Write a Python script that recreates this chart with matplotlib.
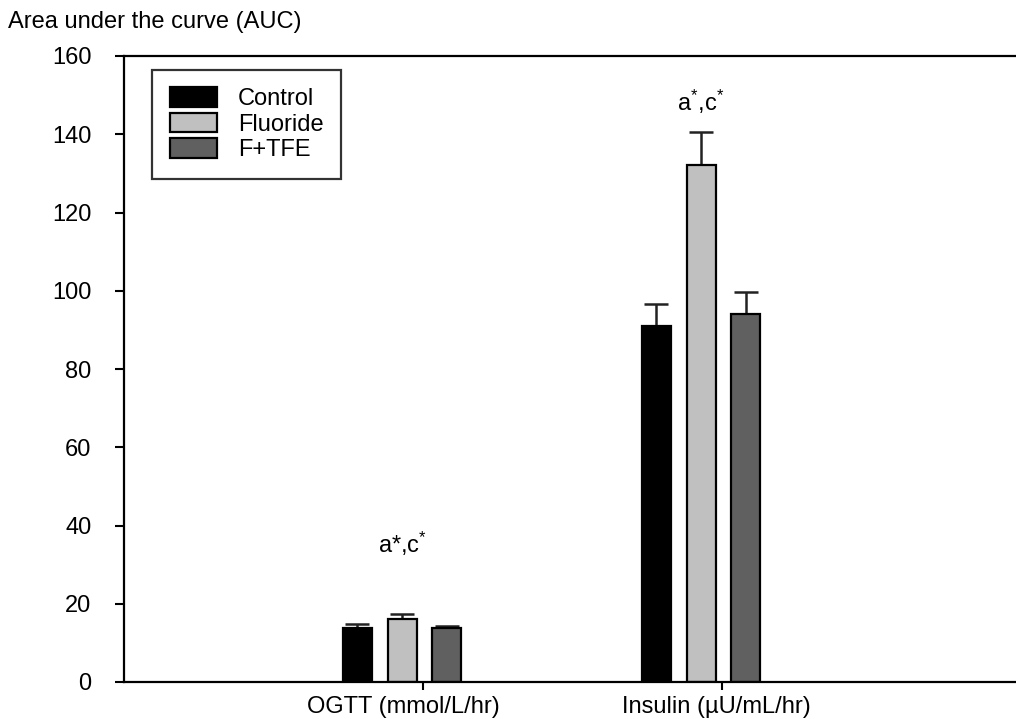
import matplotlib
matplotlib.use("Agg")
import matplotlib.pyplot as plt
import matplotlib.transforms as mtransforms
import numpy as np

plt.rcParams['font.family'] = ['Liberation Sans', 'DejaVu Sans']
plt.rcParams['mathtext.fontset'] = 'custom'
plt.rcParams['mathtext.rm'] = 'Liberation Sans'
plt.rcParams['mathtext.it'] = 'Liberation Sans'
plt.rcParams['mathtext.bf'] = 'Liberation Sans:bold'

categories = ["OGTT (mmol/L/hr)", "Insulin (\u00b5U/mL/hr)"]
groups = ["Control", "Fluoride", "F+TFE"]
control = [13.8, 91.0]
fluoride = [16.1, 132.1]
ftfe = [13.7, 94.0]
control_err = [1.0, 5.6]
fluoride_err = [1.4, 8.4]
ftfe_err = [0.6, 5.7]
annotations = ["a*,c$^{*}$", "a$^{*}$,c$^{*}$"]
annot_y = [33, 146]
colors = ["#000000", "#c0c0c0", "#606060"]
yticks = [0, 20, 40, 60, 80, 100, 120, 140, 160]

FS = 17
fig = plt.figure(figsize=(10.16, 7.19), dpi=100)
ax = fig.add_axes([124/1016, 37/719, 897/1016, 626/719])

x = np.arange(1, len(categories) + 1)
width = 0.097
offsets = [-0.22, -0.07, 0.08]
series = [control, fluoride, ftfe]
errs = [control_err, fluoride_err, ftfe_err]
for s, e, c, off, name in zip(series, errs, colors, offsets, groups):
    ax.bar(x + off, s, width, color=c, edgecolor='black', linewidth=1.6, label=name, zorder=2)
    ax.errorbar(x + off, s, yerr=[np.zeros(len(e)), e], fmt='none', ecolor='#222222',
                elinewidth=1.8, capsize=8.5, capthick=1.8, zorder=1)

for xi, t, yy in zip(x, annotations, annot_y):
    ax.text(xi - 0.07, yy, t, ha='center', va='baseline', fontsize=FS)

ax.set_xlim(0, 3)
ax.set_ylim(0, 160)
ax.set_yticks(yticks)
ax.set_yticklabels([str(v) for v in yticks], fontsize=FS)
ax.set_xticks(x)
ax.set_xticklabels([])
ax.tick_params(axis='y', direction='out', length=6.5, width=1.5, pad=17)
ax.tick_params(axis='x', direction='out', length=6.0, width=1.5)
for sp in ['left', 'top', 'bottom']:
    ax.spines[sp].set_linewidth(1.6)
ax.spines['right'].set_visible(False)

trans = mtransforms.blended_transform_factory(ax.transData, ax.transAxes)
label_dx = [-0.067, -0.02]
for xi, lab, dx in zip(x, categories, label_dx):
    ax.text(xi + dx, -0.022, lab, transform=trans, ha='center', va='top', fontsize=FS)

fig.text(8/1016, 1 - 22/719, "Area under the curve (AUC)", ha='left', va='center', fontsize=FS)

leg = ax.legend(loc='upper left', bbox_to_anchor=(0.031, 0.978), borderaxespad=0,
                fontsize=FS, frameon=True, fancybox=False, edgecolor='black',
                handlelength=2.0, handleheight=0.9, labelspacing=0.1,
                handletextpad=0.9, borderpad=0.75)
leg.get_frame().set_linewidth(1.6)

fig.savefig("out.png", dpi=100)
